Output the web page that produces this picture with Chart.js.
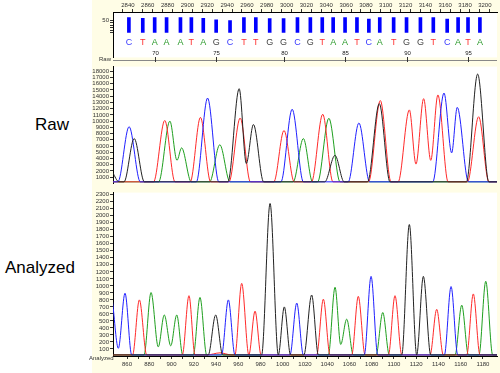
<!DOCTYPE html>
<html>
<head>
<meta charset="utf-8">
<script src="https://cdn.jsdelivr.net/npm/chart.js@4.4.0/dist/chart.umd.min.js"></script>
<style>
  html, body { margin: 0; padding: 0; background: #fff; }
  #wrap { position: relative; width: 500px; height: 373px; overflow: hidden; font-family: Arial, "Liberation Sans", sans-serif; }
  #panel { position: absolute; left: 92px; top: 0; width: 408px; height: 373px; background: #fffde6; }
  canvas { position: absolute; }
  .big { position: absolute; font-size: 17px; color: #000; line-height: 17px; }
  .small { position: absolute; font-size: 6px; color: #333; line-height: 6px; }
</style>
</head>
<body>
<div id="wrap">
  <div id="panel"></div>
  <div class="big" style="left:35px; top:116px">Raw</div>
  <div class="big" style="left:5px; top:259px">Analyzed</div>
  <canvas id="bases" style="left:92px; top:0px" width="408" height="62"></canvas>
  <canvas id="raw" style="left:92px; top:62px" width="408" height="126"></canvas>
  <canvas id="ana" style="left:92px; top:188px" width="408" height="185"></canvas>
  <div class="small" style="left:99px; top:56px">Raw</div>
  <div class="small" style="left:89px; top:355px">Analyzed</div>
</div>
<script>
// base calls (scan position of each called base, quality bar height)
const baseLetters = ["C","T","A","A","A","T","A","G","C","T","T","G","G","C","G",
                     "T","A","A","T","C","A","T","G","G","T","C","A","T","A"];
const basePositions = [2841, 2855, 2867, 2879, 2893, 2904, 2916, 2929, 2943, 2957,
                       2969, 2983, 2997, 3011, 3024, 3036, 3047, 3059, 3071, 3083,
                       3094, 3108, 3121, 3135, 3148, 3162, 3173, 3183, 3195];
const baseQuality = [60, 57, 60, 60, 60, 60, 57, 51, 48, 60, 60, 56, 56, 60, 60,
                     60, 60, 60, 60, 54, 60, 60, 60, 60, 60, 54, 60, 60, 60];
const firstBaseNumber = 68;

// tick labels
const scanTicks = [2840, 2860, 2880, 2900, 2920, 2940, 2960, 2980, 3000, 3020,
                   3040, 3060, 3080, 3100, 3120, 3140, 3160, 3180, 3200];
const qualityTicks = [0, 10, 20, 30, 40, 50];
const rawTicks = [1000, 2000, 3000, 4000, 5000, 6000, 7000, 8000, 9000, 10000,
                  11000, 12000, 13000, 14000, 15000, 16000, 17000, 18000];
const anaTicks = [100, 200, 300, 400, 500, 600, 700, 800, 900, 1000, 1100, 1200,
                  1300, 1400, 1500, 1600, 1700, 1800, 1900, 2000, 2100, 2200, 2300];
const anaXTicks = [860, 880, 900, 920, 940, 960, 980, 1000, 1020, 1040, 1060,
                   1080, 1100, 1120, 1140, 1160, 1180];

// raw traces [scan, signal]
const rawG = [[2830,1700],[2836,250],[2841,250],[2851,7200],[2861,250],[2943,250],[2954,15200],
              [2961,3200],[2968,9450],[2978,250],[3038,250],[3048,4500],[3057,250],[3080,250],
              [3091.5,12800],[3102,250],[3177,250],[3188,17550],[3199,250],[3207,250]];
const rawC = [[2830,250],[2835,250],[2846,9100],[2857,250],[2912,250],[2923,13700],[2934,250],
              [2995,250],[3006,11900],[3017,250],[3061,250],[3071.5,9700],[3082,250],[3144,250],
              [3155,14500],[3162.5,4900],[3168,12200],[3179,250],[3207,250]];
const rawT = [[2830,250],[2870,250],[2881,10100],[2891,250],[2906,250],[2916,10600],[2926,250],
              [2944,250],[2955,10500],[2965,250],[2988,250],[2998,8500],[3008,250],[3025,250],
              [3036,11100],[3046,250],[3081,250],[3092.5,13300],[3103,250],[3110,250],
              [3121,11800],[3127.5,3100],[3135,13600],[3142,3700],[3149,14200],[3159,250],
              [3178,250],[3189,10700],[3199,250],[3207,250]];
const rawA = [[2830,250],[2875,250],[2886,10000],[2893,3700],[2897.5,5700],[2907,250],[2925,250],
              [2935,6200],[2945,250],[3007,250],[3017,7200],[3026,250],[3031,250],[3042,10450],
              [3053,250],[3207,250]];

// analyzed traces [position, signal]
const anaG = [[847,15],[933,15],[939.7,585],[946,15],[981,15],[988.6,2175],[996,15],[1001.4,700],
              [1007,15],[1019,15],[1026,870],[1032,15],[1107,15],[1113.8,1875],[1120.4,15],
              [1126.4,1135],[1133,15],[1193,15]];
const anaC = [[847,770],[852.2,110],[858.2,895],[864.2,15],[945,15],[951.1,800],[957,15],
              [1006.5,15],[1012.6,755],[1018.5,15],[1073.3,15],[1079.4,1135],[1085.4,15],
              [1145.3,15],[1151.3,990],[1157.3,15],[1193,15]];
const anaT = [[847,15],[865,15],[871.1,800],[877.7,15],[909.7,15],[915.7,860],[921.1,15],
              [932,15],[943.6,45],[954,15],[957,15],[963.1,1035],[969.5,15],[975.1,640],
              [980.5,15],[1030.5,15],[1036.5,810],[1042.5,15],[1062,15],[1067.9,850],[1074,15],
              [1095,15],[1100.9,860],[1107,15],[1132.4,15],[1138.4,665],[1144.3,15],[1165.4,15],
              [1171.3,885],[1177.3,15],[1193,15]];
const anaA = [[847,15],[875.3,15],[881.6,905],[888.1,130],[893.5,585],[899.3,145],[904.7,585],
              [910.1,15],[919.6,15],[925.6,835],[931.6,15],[1041,15],[1047,980],[1052.1,165],
              [1057.5,525],[1063.4,15],[1083.9,15],[1089.9,620],[1095.8,15],[1154.9,15],
              [1160.9,725],[1166.9,15],[1176.4,15],[1182.5,1065],[1188.7,15],[1193,15]];

const letterColor = { A: "#2a9a2a", C: "#3838ff", G: "#444", T: "#ff3030" };
const FONT = "Arial";

const whiteArea = {
  id: "whiteArea",
  beforeDraw(chart) {
    const { ctx, chartArea: a } = chart;
    ctx.save();
    ctx.fillStyle = "#fff";
    ctx.fillRect(a.left, a.top, a.right - a.left, a.bottom - a.top);
    ctx.restore();
  }
};

const baseLabels = {
  id: "baseLabels",
  afterDatasetsDraw(chart) {
    const { ctx, chartArea: a } = chart;
    const xs = chart.scales.x;
    ctx.save();
    ctx.textAlign = "center";
    ctx.textBaseline = "middle";
    ctx.font = "9px " + FONT;
    baseLetters.forEach((b, i) => {
      ctx.fillStyle = letterColor[b];
      ctx.fillText(b, xs.getPixelForValue(basePositions[i]), 43);
    });
    // numbering strip
    ctx.strokeStyle = "#888";
    ctx.lineWidth = 1;
    ctx.beginPath();
    ctx.moveTo(a.left, 60.5);
    ctx.lineTo(a.right, 60.5);
    ctx.stroke();
    ctx.font = "6px " + FONT;
    ctx.fillStyle = "#222";
    ctx.strokeStyle = "#333";
    basePositions.forEach((p, i) => {
      const n = firstBaseNumber + i;
      if (n % 5 !== 0) return;
      const x = Math.round(xs.getPixelForValue(p)) + 0.5;
      ctx.fillText(String(n), x, 53);
      ctx.beginPath();
      ctx.moveTo(x, 57);
      ctx.lineTo(x, 62);
      ctx.stroke();
    });
    ctx.restore();
  }
};

function fixWidth(w) { return s => { s.width = w; }; }
function fixHeight(h) { return s => { s.height = h; s.paddingLeft = 0; s.paddingRight = 0; }; }
function withMinor(list) {
  const out = [];
  list.forEach((v, i) => {
    out.push({ value: v });
    if (i < list.length - 1) out.push({ value: (v + list[i + 1]) / 2 });
  });
  return out;
}
const tickFont = { family: FONT, size: 6 };

function yAxis(min, max, ticks, labelFn) {
  return {
    min, max,
    afterBuildTicks: s => { s.ticks = ticks.map(v => ({ value: v })); },
    afterFit: fixWidth(21),
    ticks: { font: tickFont, color: "#333", padding: 1, autoSkip: false,
             callback: labelFn || (v => String(v)) },
    grid: { drawOnChartArea: false, tickLength: 3, color: "#333" },
    border: { color: "#000" }
  };
}

function trace(points, color) {
  return {
    data: points.map(p => ({ x: p[0], y: p[1] })),
    borderColor: color, borderWidth: 1, pointRadius: 0,
    cubicInterpolationMode: "monotone", fill: false
  };
}

const common = {
  responsive: false, animation: false, devicePixelRatio: 1,
  plugins: { legend: { display: false }, tooltip: { enabled: false } }
};

const scanMin = 2830.2, scanMax = 3207;

new Chart(document.getElementById("bases"), {
  type: "bar",
  data: {
    datasets: [{
      data: basePositions.map((p, i) => ({ x: p, y: baseQuality[i] })),
      backgroundColor: "#0000ff", barThickness: 3
    }]
  },
  options: {
    ...common,
    layout: { padding: { right: 3 } },
    scales: {
      x: {
        type: "linear", position: "top", min: scanMin, max: scanMax,
        afterBuildTicks: s => { s.ticks = withMinor(scanTicks); },
        afterFit: fixHeight(12),
        ticks: { font: tickFont, color: "#333", padding: 0, maxRotation: 0, autoSkip: false,
                 callback: v => scanTicks.includes(v) ? String(v) : "" },
        grid: { drawOnChartArea: false, tickLength: 3, color: "#333" },
        border: { color: "#000" }
      },
      y: yAxis(-96.4, 82.1, qualityTicks, v => v === 50 ? "50" : "")
    }
  },
  plugins: [whiteArea, baseLabels]
});

new Chart(document.getElementById("raw"), {
  type: "line",
  data: {
    datasets: [
      trace(rawG, "#222"), trace(rawC, "#2020ff"),
      trace(rawT, "#ff2a2a"), trace(rawA, "#1f9f1f")
    ]
  },
  options: {
    ...common,
    layout: { padding: { right: 3 } },
    scales: {
      x: { type: "linear", min: scanMin, max: scanMax, display: false },
      y: yAxis(0, 18750, rawTicks)
    }
  },
  plugins: [whiteArea]
});

new Chart(document.getElementById("ana"), {
  type: "line",
  data: {
    datasets: [
      trace(anaG, "#222"), trace(anaC, "#2020ff"),
      trace(anaT, "#ff2a2a"), trace(anaA, "#1f9f1f")
    ]
  },
  options: {
    ...common,
    layout: { padding: { right: 3 } },
    scales: {
      x: {
        type: "linear", min: 847.4, max: 1192.6,
        afterBuildTicks: s => { s.ticks = withMinor(anaXTicks); },
        afterFit: fixHeight(17),
        ticks: { font: tickFont, color: "#333", padding: 2, maxRotation: 0, autoSkip: false,
                 callback: v => anaXTicks.includes(v) ? String(v) : "" },
        grid: { drawOnChartArea: false, tickLength: 3, color: "#333" },
        border: { color: "#000" }
      },
      y: yAxis(0, 2330, anaTicks)
    }
  },
  plugins: [whiteArea]
});
</script>
</body>
</html>
